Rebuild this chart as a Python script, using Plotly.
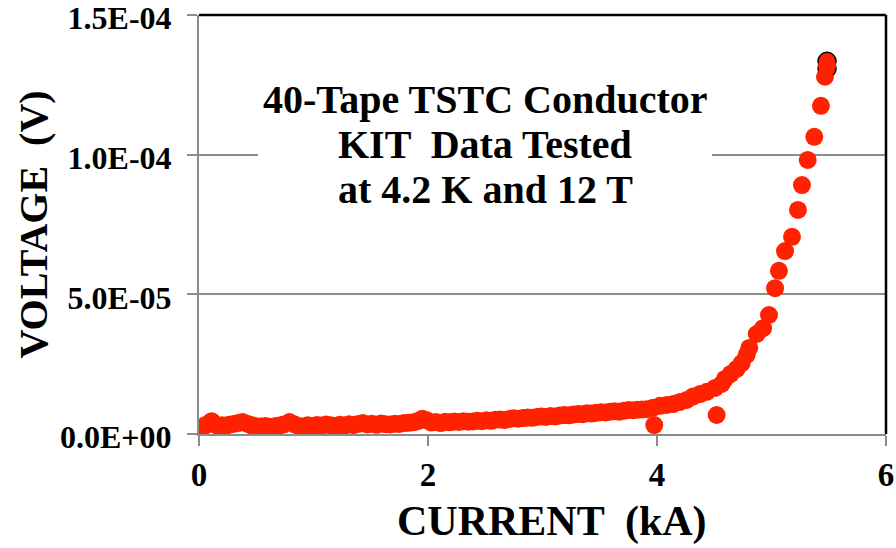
import plotly.graph_objects as go

# Current (kA) and voltage (V) readings of the 40-tape TSTC conductor
current_ka = [
    0.02, 0.05, 0.08, 0.11, 0.14, 0.17, 0.20, 0.23, 0.26, 0.30,
    0.34, 0.38, 0.42, 0.46, 0.50, 0.54, 0.58, 0.62, 0.66, 0.70,
    0.74, 0.79, 0.83, 0.87, 0.91, 0.95, 0.99, 1.03, 1.07, 1.11,
    1.15, 1.19, 1.23, 1.27, 1.31, 1.35, 1.39, 1.43, 1.47, 1.51,
    1.55, 1.59, 1.63, 1.67, 1.71, 1.75, 1.79, 1.83, 1.87, 1.91,
    1.95, 1.99, 2.03, 2.07, 2.11, 2.15, 2.19, 2.23, 2.27, 2.31,
    2.35, 2.39, 2.43, 2.47, 2.51, 2.55, 2.59, 2.63, 2.67, 2.71,
    2.75, 2.79, 2.83, 2.87, 2.91, 2.95, 2.99, 3.03, 3.07, 3.11,
    3.15, 3.19, 3.23, 3.27, 3.31, 3.35, 3.39, 3.43, 3.47, 3.51,
    3.55, 3.59, 3.63, 3.67, 3.71, 3.75, 3.79, 3.83, 3.87, 3.91,
    3.965, 4.026, 4.085, 4.140, 4.201, 4.259, 4.314, 4.376, 4.434, 4.507,
    4.565, 4.594, 4.644, 4.696, 4.740, 4.783, 4.806, 4.871, 4.926, 4.978,
    5.031, 5.065, 5.118, 5.179, 5.231, 5.266, 5.316, 5.374, 5.432, 5.467,
    3.976, 4.521, 5.485,
]
voltage_v = [
    2.2e-6, 3.0e-6, 3.6e-6, 4.6e-6, 3.4e-6, 2.8e-6, 3.1e-6, 2.9e-6, 3.3e-6, 3.6e-6,
    3.9e-6, 4.3e-6, 3.7e-6, 3.1e-6, 2.8e-6, 2.7e-6, 2.9e-6, 2.6e-6, 2.8e-6, 3.0e-6,
    3.4e-6, 4.3e-6, 3.5e-6, 2.9e-6, 2.7e-6, 3.1e-6, 2.8e-6, 3.2e-6, 3.0e-6, 3.4e-6,
    3.1e-6, 2.9e-6, 3.3e-6, 3.0e-6, 3.5e-6, 3.2e-6, 3.6e-6, 3.9e-6, 3.4e-6, 3.7e-6,
    3.3e-6, 3.8e-6, 3.5e-6, 3.4e-6, 3.7e-6, 3.6e-6, 3.9e-6, 4.0e-6, 4.2e-6, 4.6e-6,
    5.5e-6, 4.9e-6, 4.1e-6, 4.3e-6, 3.9e-6, 4.4e-6, 4.2e-6, 4.5e-6, 4.3e-6, 4.6e-6,
    4.4e-6, 4.5e-6, 4.7e-6, 4.6e-6, 4.9e-6, 4.7e-6, 5.1e-6, 5.2e-6, 5.0e-6, 5.4e-6,
    5.6e-6, 5.5e-6, 5.7e-6, 5.9e-6, 5.8e-6, 6.1e-6, 6.3e-6, 6.1e-6, 6.4e-6, 6.3e-6,
    6.6e-6, 6.8e-6, 6.7e-6, 7.0e-6, 7.2e-6, 7.1e-6, 7.4e-6, 7.3e-6, 7.6e-6, 7.8e-6,
    7.7e-6, 8.0e-6, 8.1e-6, 8.0e-6, 8.3e-6, 8.6e-6, 8.5e-6, 8.7e-6, 8.8e-6, 8.9e-6,
    9.4e-6, 1.01e-5, 1.04e-5, 1.07e-5, 1.15e-5, 1.22e-5, 1.34e-5, 1.43e-5, 1.51e-5, 1.65e-5,
    1.79e-5, 1.97e-5, 2.15e-5, 2.33e-5, 2.54e-5, 2.83e-5, 3.08e-5, 3.58e-5, 3.79e-5, 4.26e-5,
    5.22e-5, 5.84e-5, 6.55e-5, 7.06e-5, 8.02e-5, 8.91e-5, 9.81e-5, 1.064e-4, 1.175e-4, 1.279e-4,
    3.2e-6, 6.8e-6, 1.32e-4,
]

# Final readings at the top of the transition (outlined points)
peak_current_ka = [5.485, 5.485]
peak_voltage_v = [1.334e-4, 1.308e-4]

y_tick_values = [0, 5e-5, 1e-4, 1.5e-4]
y_tick_labels = ["0.0E+00", "5.0E-05", "1.0E-04", "1.5E-04"]
x_tick_values = [0, 2, 4, 6]
x_tick_labels = ["0", "2", "4", "6"]

note_lines = ["40-Tape TSTC Conductor", "KIT  Data Tested", "at 4.2 K and 12 T"]
note_y = [1.196e-4, 1.035e-4, 8.74e-5]

RED = "#ff2200"
GRID = "#8c8c8c"
FONT = "Liberation Serif"

fig = go.Figure()
fig.add_trace(go.Scatter(
    x=peak_current_ka, y=peak_voltage_v, mode="markers",
    marker=dict(size=18, color=RED, line=dict(color="black", width=1.5)),
    showlegend=False,
))
fig.add_trace(go.Scatter(
    x=current_ka, y=voltage_v, mode="markers",
    marker=dict(size=18, color=RED, line=dict(width=0)),
    showlegend=False,
))

# white panel behind the caption, hiding the gridline there
fig.add_shape(type="rect", xref="x", yref="y", x0=0.515, x1=4.48,
              y0=8.0e-5, y1=1.27e-4, layer="between",
              fillcolor="white", line=dict(width=0))
for line_text, yv in zip(note_lines, note_y):
    fig.add_annotation(
        x=2.5, y=yv, xref="x", yref="y", text=line_text,
        showarrow=False, xanchor="center", yanchor="middle",
        font=dict(family=FONT, size=40, color="black", weight="bold"),
    )

# axis titles
fig.add_annotation(
    x=0.5138, y=-0.21, xref="paper", yref="paper", text="CURRENT  (kA)",
    showarrow=False, xanchor="center", yanchor="middle",
    font=dict(family=FONT, size=42, color="black", weight="bold"),
)
fig.add_annotation(
    x=-0.2416, y=0.5, xref="paper", yref="paper", text="VOLTAGE  (V)",
    showarrow=False, xanchor="center", yanchor="middle", textangle=-90,
    font=dict(family=FONT, size=40, color="black", weight="bold"),
)

# top and right frame lines
fig.add_shape(type="line", xref="paper", yref="paper", x0=0, x1=1, y0=1, y1=1,
              line=dict(color="black", width=2.5))
fig.add_shape(type="line", xref="paper", yref="paper", x0=1, x1=1, y0=0, y1=1,
              line=dict(color="black", width=2.5))

fig.update_layout(
    width=896, height=548,
    margin=dict(l=199, r=10, t=15, b=114),
    paper_bgcolor="white", plot_bgcolor="white",
    font=dict(family=FONT, color="black"),
    xaxis=dict(
        range=[0, 6], tickvals=x_tick_values, ticktext=x_tick_labels,
        showgrid=False, zeroline=False, automargin=False,
        showline=True, linecolor=GRID, linewidth=2,
        ticks="outside", ticklen=10, tickcolor=GRID, tickwidth=2,
        ticklabelstandoff=0, ticklabeloverflow="allow",
        tickfont=dict(family=FONT, size=33, weight="bold"),
    ),
    yaxis=dict(
        range=[0, 1.50001e-4], tickvals=y_tick_values, ticktext=y_tick_labels,
        showgrid=True, gridcolor=GRID, gridwidth=2, zeroline=False,
        automargin=False,
        showline=True, linecolor=GRID, linewidth=2,
        ticks="outside", ticklen=10, tickcolor=GRID, tickwidth=2,
        ticklabelstandoff=9, ticklabelshift=3, ticklabeloverflow="allow",
        tickfont=dict(family=FONT, size=32, weight="bold"),
    ),
)

fig.write_html("out.html")
